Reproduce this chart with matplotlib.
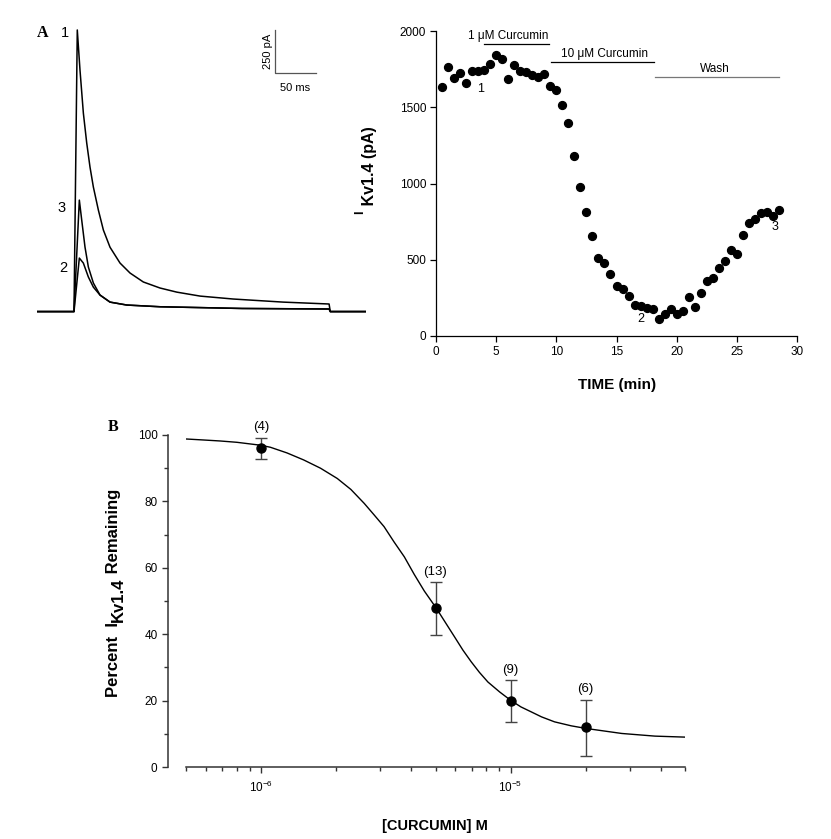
import numpy as np
import matplotlib
matplotlib.use('Agg')
import matplotlib.pyplot as plt
from matplotlib.ticker import FixedLocator, NullFormatter, MultipleLocator
from matplotlib.transforms import IdentityTransform

plt.rcParams['font.family'] = ['Liberation Sans', 'DejaVu Sans']
plt.rcParams['mathtext.fontset'] = 'custom'
plt.rcParams['mathtext.rm'] = 'Liberation Sans'
plt.rcParams['mathtext.it'] = 'Liberation Sans:italic'
plt.rcParams['mathtext.bf'] = 'Liberation Sans:bold'
plt.rcParams['axes.unicode_minus'] = False

# ---- panel A, current traces (ms, pA) ----
t_trace1 = [0, 45.1, 49.1, 52.4, 56.5, 60.6, 64.6, 68.7, 74.8, 80.9, 89.0, 101.2, 113.4,
            129.6, 149.9, 170.4, 198.8, 239, 300, 356, 357.5, 401]
i_trace1 = [0, 0, 1637, 1404, 1154, 980, 840, 724, 590, 474, 374, 282, 224,
            172, 137, 113, 90, 73, 55, 44, 0, 0]
t_trace3 = [0, 45.1, 51.6, 54.5, 58.5, 62.6, 68.7, 76.8, 89.0, 109.4, 150, 250, 356, 357.5, 401]
i_trace3 = [0, 0, 648, 532, 375, 259, 166, 96, 55, 38, 28, 18, 15, 0, 0]
t_trace2 = [0, 45.1, 51.6, 56.5, 62.6, 68.7, 76.8, 89.0, 109.4, 150, 250, 356, 357.5, 401]
i_trace2 = [0, 0, 311, 282, 201, 142, 96, 55, 38, 28, 18, 15, 0, 0]

# ---- panel A, time course ----
time_min = [0.5, 1.0, 1.5, 2.0, 2.5, 3.0, 3.5, 4.0, 4.5, 5.0, 5.5, 6.0, 6.5, 7.0, 7.5,
            8.0, 8.5, 9.0, 9.5, 10.0, 10.5, 11.0, 11.5, 12.0, 12.5, 13.0, 13.5, 14.0,
            14.5, 15.0, 15.5, 16.0, 16.5, 17.0, 17.5, 18.0, 18.5, 19.0, 19.5, 20.0,
            20.5, 21.0, 21.5, 22.0, 22.5, 23.0, 23.5, 24.0, 24.5, 25.0, 25.5, 26.0,
            26.5, 27.0, 27.5, 28.0, 28.5]
ikv = [1633, 1764, 1692, 1725, 1661, 1738, 1735, 1742, 1786, 1845, 1819, 1685, 1779,
       1735, 1729, 1709, 1698, 1716, 1639, 1611, 1517, 1397, 1180, 975, 815, 658, 514,
       476, 404, 330, 306, 264, 201, 197, 184, 179, 114, 142, 179, 146, 164, 258, 188,
       284, 358, 383, 444, 492, 562, 540, 662, 741, 767, 807, 815, 785, 824]

# ---- panel B, concentration response ----
conc = [1e-6, 5e-6, 1e-5, 2e-5]
pct = [96.0, 47.9, 19.9, 11.9]
err_lo = [92.8, 39.9, 13.5, 3.2]
err_hi = [99.2, 55.6, 26.3, 20.3]
n_cells = ['(4)', '(13)', '(9)', '(6)']
fit_conc = [5.0e-7, 5.87e-7, 6.85e-7, 8.0e-7, 1.0e-6, 1.09e-6, 1.27e-6, 1.48e-6, 1.73e-6,
            2.02e-6, 2.29e-6, 2.59e-6, 2.84e-6, 3.11e-6, 3.41e-6, 3.75e-6, 4.11e-6,
            4.51e-6, 5.02e-6, 5.96e-6, 6.44e-6, 6.95e-6, 7.50e-6, 8.11e-6, 9.04e-6,
            1.0e-5, 1.10e-5, 1.21e-5, 1.33e-5, 1.50e-5, 1.75e-5, 2.01e-5, 2.79e-5,
            3.79e-5, 5.0e-5]
fit_pct = [98.8, 98.5, 98.2, 97.8, 96.9, 96.3, 94.6, 92.5, 90.0, 86.9, 83.6, 79.4, 75.9,
           72.4, 67.8, 63.3, 58.0, 53.0, 48.0, 39.2, 35.2, 31.7, 28.5, 25.6, 22.6, 20.1,
           18.1, 16.6, 15.1, 13.6, 12.4, 11.6, 10.1, 9.3, 9.0]

W, H = 831, 839
fig = plt.figure(figsize=(W / 100, H / 100), dpi=100)


def box(x0, y0, x1, y1):
    # pixel box (image coords, top-down) -> figure rect
    return [x0 / W, 1 - y1 / H, (x1 - x0) / W, (y1 - y0) / H]


def ftext(x, y, s, **kw):
    return fig.text(x / W, 1 - y / H, s, **kw)


def vlabel(x, y, pieces, **kw):
    # rotated label built from pieces (text, baseline shift px, size), starting at bottom y
    r = fig.canvas.get_renderer()
    ypos = H - y
    for s, dx, fs in pieces:
        t = fig.text(x + dx, ypos, s, rotation=90, rotation_mode='anchor', ha='left',
                     va='baseline', transform=IdentityTransform(), fontsize=fs, **kw)
        ypos += t.get_window_extent(r).height


# traces
ax1 = fig.add_axes(box(37, 20, 366, 320))
for tt, ii in [(t_trace1, i_trace1), (t_trace3, i_trace3), (t_trace2, i_trace2)]:
    ax1.plot(tt, ii, color='black', lw=1.1)
ax1.set_xlim(0, 401)
ax1.set_ylim(-49, 1695)
ax1.axis('off')
ax1.plot([290.2, 290.2, 340.2], [1637, 1387, 1387], color='#555555', lw=0.9)
ax1.text(281, 1512, '250 pA', rotation=90, ha='center', va='center', fontsize=8)
ax1.text(315, 1299, '50 ms', ha='center', va='center', fontsize=8)
ax1.text(34, 1619, '1', ha='center', va='center', fontsize=10.5)
ax1.text(30.5, 602, '3', ha='center', va='center', fontsize=10.5)
ax1.text(31.7, 253, '2', ha='center', va='center', fontsize=10.5)
ftext(43, 33, 'A', family='Liberation Serif', fontweight='bold', fontsize=11.5,
      ha='center', va='center')

# time course
ax2 = fig.add_axes(box(436, 31, 797, 336))
ax2.scatter(time_min, ikv, s=32, color='black', zorder=3, clip_on=False)
ax2.set_xlim(0, 30)
ax2.set_ylim(0, 2000)
ax2.set_xticks(range(0, 31, 5))
ax2.set_yticks(range(0, 2001, 500))
for sp in ['top', 'right']:
    ax2.spines[sp].set_visible(False)
for sp in ['left', 'bottom']:
    ax2.spines[sp].set_linewidth(0.9)
ax2.tick_params(direction='out', length=4, width=0.9, labelsize=8.5, pad=3)
ax2.plot([3.96, 9.36], [1917, 1917], color='black', lw=0.9, clip_on=False)
ax2.plot([9.55, 18.1], [1797, 1797], color='black', lw=0.9, clip_on=False)
ax2.plot([18.2, 28.5], [1698, 1698], color='#777777', lw=0.9, clip_on=False)
ax2.text(5.96, 1928, '1 \u03bcM Curcumin', ha='center', va='bottom', fontsize=8.5)
ax2.text(13.97, 1808, '10 \u03bcM Curcumin', ha='center', va='bottom', fontsize=8.5)
ax2.text(23.16, 1712, 'Wash', ha='center', va='bottom', fontsize=8.5)
ax2.text(3.7, 1622, '1', ha='center', va='center', fontsize=9)
ax2.text(17.0, 114, '2', ha='center', va='center', fontsize=9)
ax2.text(28.2, 715, '3', ha='center', va='center', fontsize=9)
ftext(617, 385, 'TIME (min)', ha='center', va='center', fontsize=11, fontweight='bold')
vlabel(374, 214, [('I', -11, 9), (' Kv1.4 (pA)', 0, 11.5)], fontweight='bold')

# concentration response
ax3 = fig.add_axes(box(186, 435, 685, 767))
ax3.set_xscale('log')
ax3.plot(fit_conc, fit_pct, color='black', lw=1.0)
ax3.errorbar(conc, pct, yerr=[np.subtract(pct, err_lo), np.subtract(err_hi, pct)],
             fmt='o', color='black', ms=6.5, ecolor='#444444', elinewidth=1.0,
             capsize=4, capthick=1.0, zorder=3)
for c, hi, lab in zip(conc, err_hi, n_cells):
    ax3.annotate(lab, (c, hi), xytext=(0, 3), textcoords='offset points',
                 ha='center', va='bottom', fontsize=9.5, annotation_clip=False)
ax3.set_xlim(5e-7, 5e-5)
ax3.set_ylim(0, 100)
for sp in ['top', 'right']:
    ax3.spines[sp].set_visible(False)
ax3.spines['left'].set_position(('outward', 13))
for sp in ['left', 'bottom']:
    ax3.spines[sp].set_linewidth(1.1)
    ax3.spines[sp].set_color('#333333')
ax3.xaxis.set_major_locator(FixedLocator([1e-6, 1e-5]))
ax3.xaxis.set_minor_locator(FixedLocator([5e-7, 6e-7, 7e-7, 8e-7, 9e-7, 2e-6, 3e-6, 4e-6,
                                          5e-6, 6e-6, 7e-6, 8e-6, 9e-6, 2e-5, 3e-5,
                                          4e-5, 5e-5]))
ax3.xaxis.set_minor_formatter(NullFormatter())
ax3.set_xticklabels([r'$10^{-6}$', r'$10^{-5}$'])
ax3.yaxis.set_major_locator(MultipleLocator(20))
ax3.yaxis.set_minor_locator(MultipleLocator(10))
ax3.tick_params(which='major', direction='out', length=4.5, width=1.0, color='#333333')
ax3.tick_params(which='minor', direction='out', length=3, width=1.0, color='#333333')
ax3.tick_params(axis='y', labelsize=8.5, pad=3)
ax3.tick_params(axis='x', labelsize=8.5, pad=5)
ftext(435, 826, '[CURCUMIN] M', ha='center', va='center', fontsize=10.5, fontweight='bold')
vlabel(118, 697, [('Percent  I', 0, 12), ('Kv1.4', 5, 12), (' Remaining', 0, 12)],
       fontweight='bold')
ftext(113, 427, 'B', family='Liberation Serif', fontweight='bold', fontsize=11.5,
      ha='center', va='center')

fig.savefig('out.png', dpi=100)
